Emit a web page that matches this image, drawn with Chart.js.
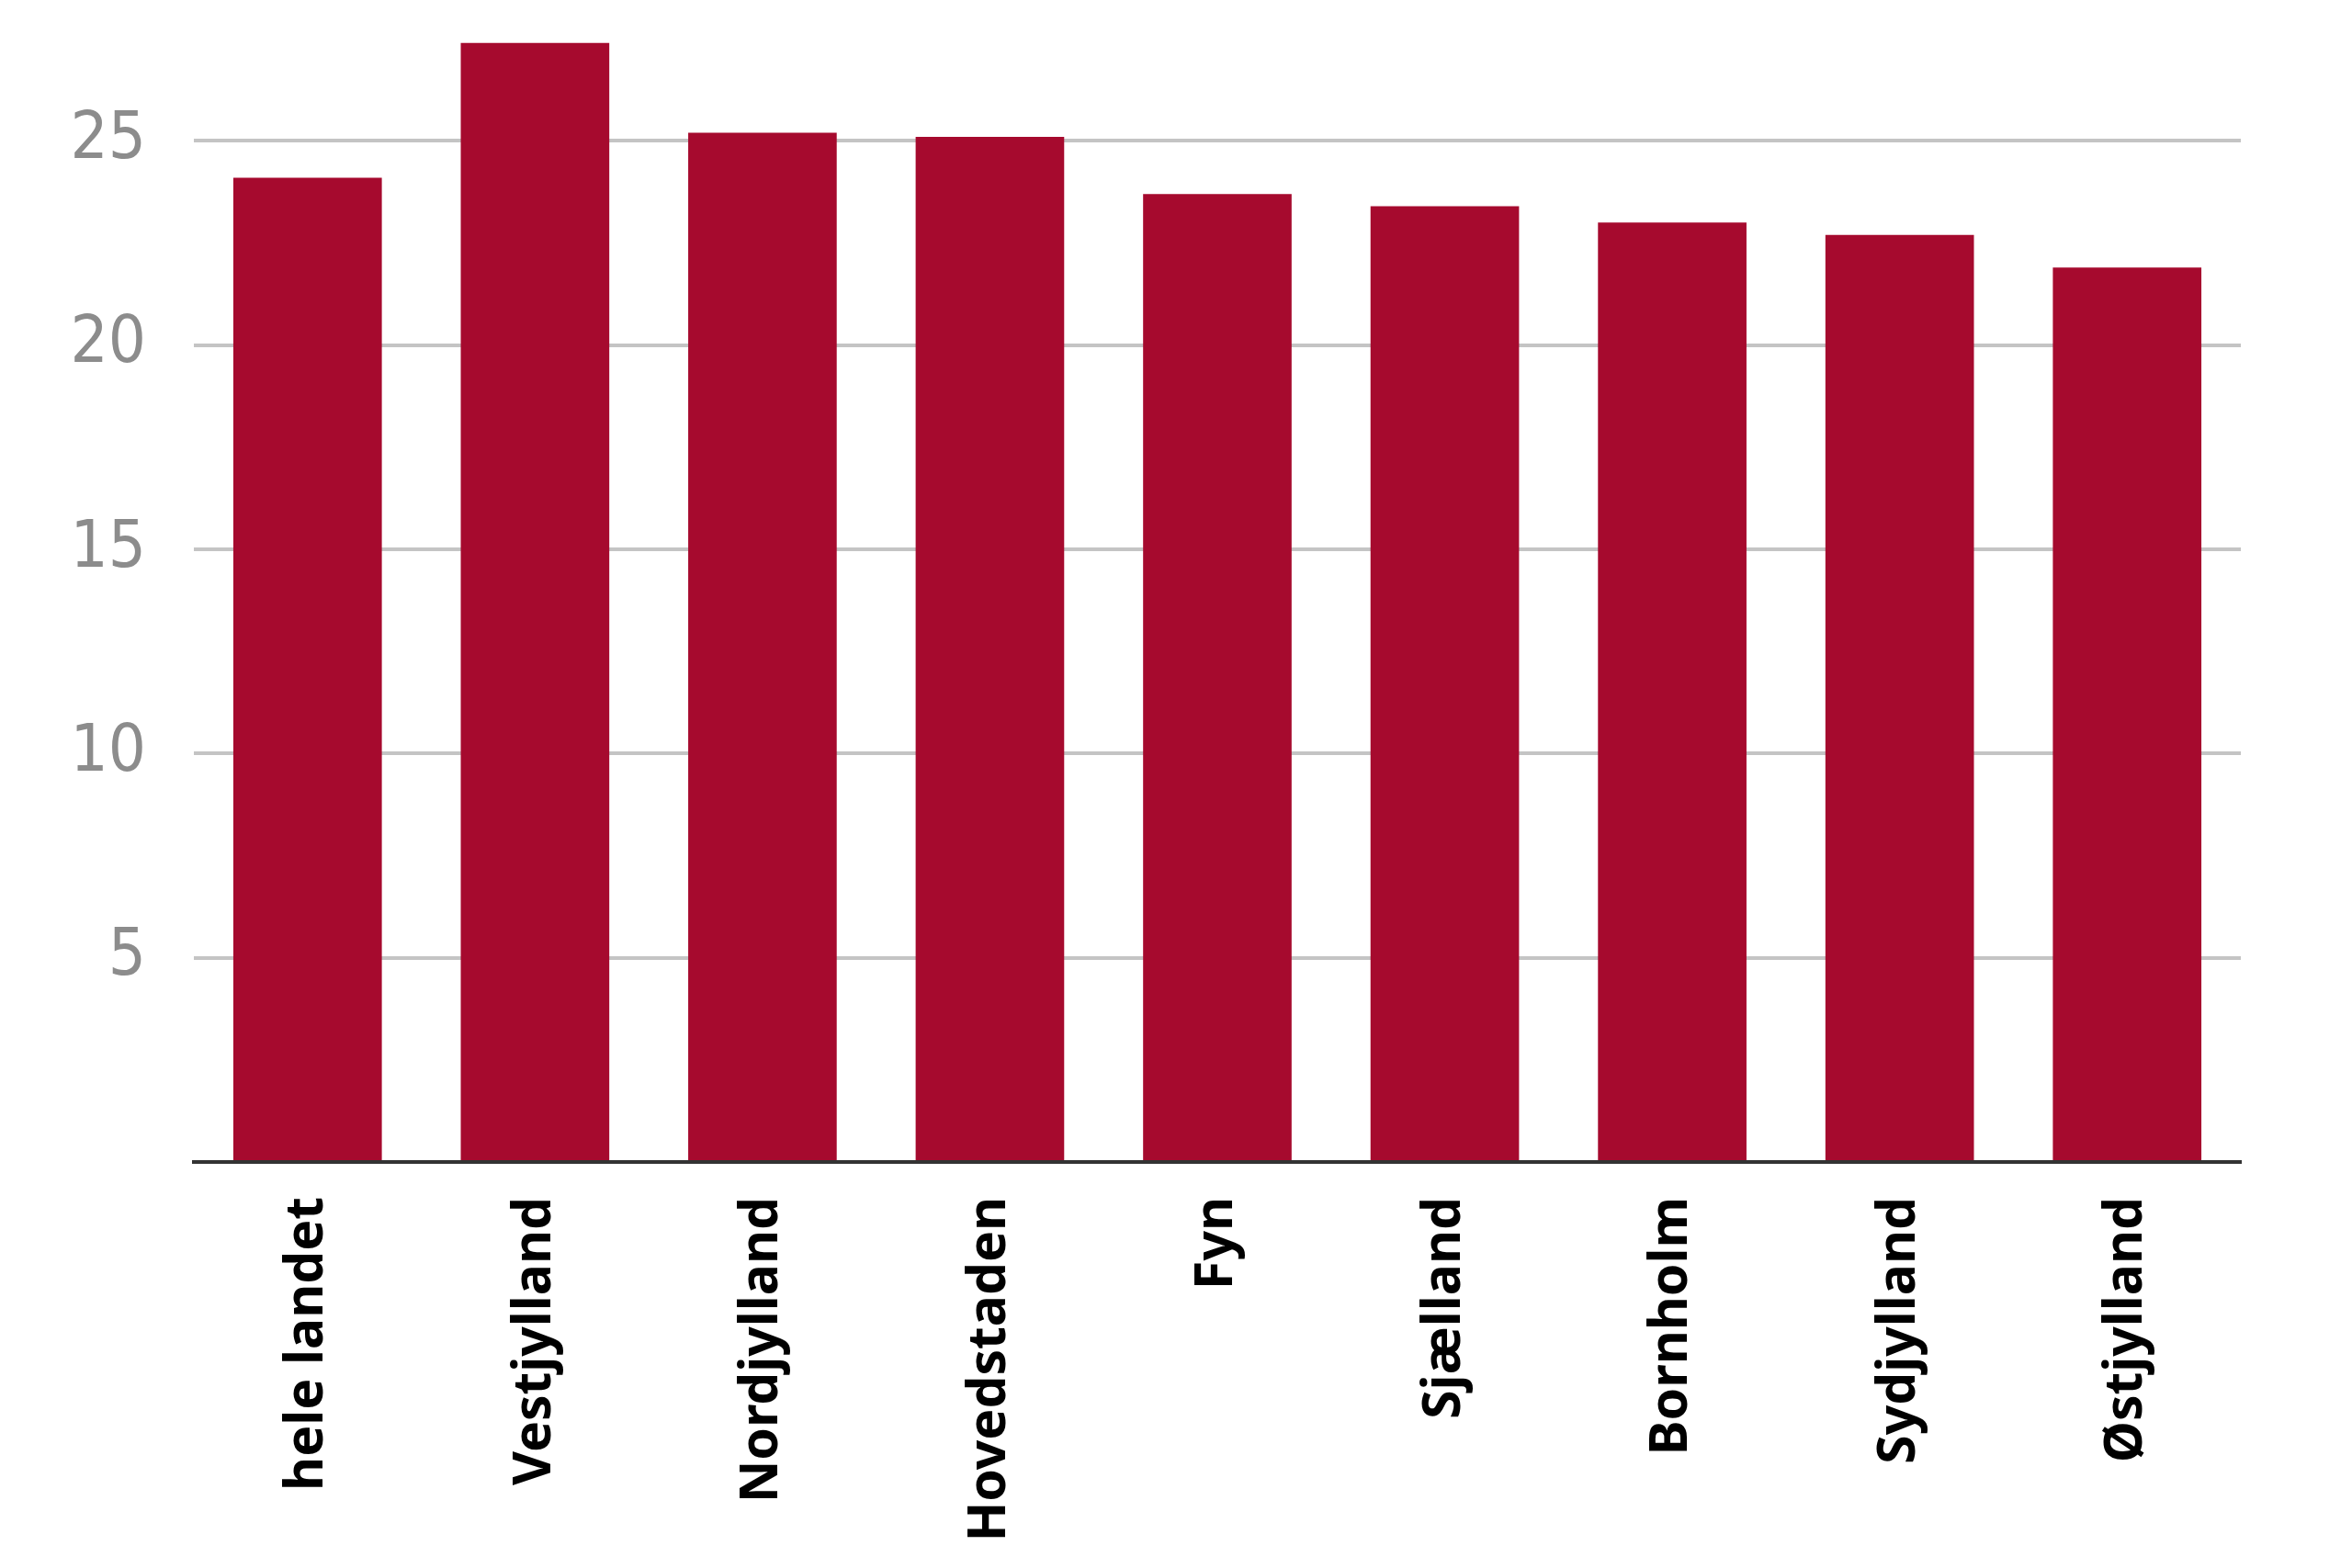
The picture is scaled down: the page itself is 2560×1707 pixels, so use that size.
<!DOCTYPE html>
<html>
<head>
<meta charset="utf-8">
<script src="https://cdn.jsdelivr.net/npm/chart.js@4.4.0/dist/chart.umd.min.js"></script>
<style>
html,body{margin:0;padding:0;background:#fff;}
#wrap{width:2560px;height:1707px;}
</style>
</head>
<body>
<div id="wrap"><canvas id="chart"></canvas></div>
<script>
const regions=["hele landet","Vestjylland","Nordjylland","Hovedstaden","Fyn","Sjælland","Bornholm","Sydjylland","Østjylland"];
const values=[24.1,27.4,25.2,25.1,23.7,23.4,23.0,22.7,21.9];
const yTicks=[0,5,10,15,20,25];

const ctx=document.getElementById("chart").getContext("2d");
new Chart(ctx,{
    type:'bar',
    data:{labels:regions,datasets:[{data:values,backgroundColor:'#a60a2e',barPercentage:0.653,categoryPercentage:1}]},
    options:{
        responsive:true,
        maintainAspectRatio:false,
        animation:false,
        layout:{padding:{top:0,right:121,left:0,bottom:0}},
        plugins:{legend:{display:false},tooltip:{enabled:false}},
        scales:{
            x:{
                grid:{display:false,drawTicks:false},
                border:{display:true,color:'#333',width:4},
                ticks:{
                    autoSkip:false,minRotation:90,maxRotation:90,padding:38,color:'#000',
                    font:{family:'"Noto Sans", "Open Sans", sans-serif',size:57,weight:'bold'}
                },
                afterFit:s=>{s.height=442;s.paddingLeft=0;s.paddingRight=0;}
            },
            y:{
                min:0,max:28.45,
                afterBuildTicks:s=>{s.ticks=yTicks.map(v=>({value:v}));},
                grid:{drawTicks:false,lineWidth:4,color:c=>c.tick&&c.tick.value===0?'rgba(0,0,0,0)':'#c4c4c4'},
                border:{display:false},
                ticks:{
                    padding:52,color:'#8c8c8c',
                    callback:v=>v===0?'':v,
                    font:{family:'"Liberation Sans Narrow", "DejaVu Sans Condensed", sans-serif',size:72}
                },
                afterFit:s=>{s.width=211;s.paddingTop=0;s.paddingBottom=0;}
            }
        }
    }
});
</script>
</body>
</html>
